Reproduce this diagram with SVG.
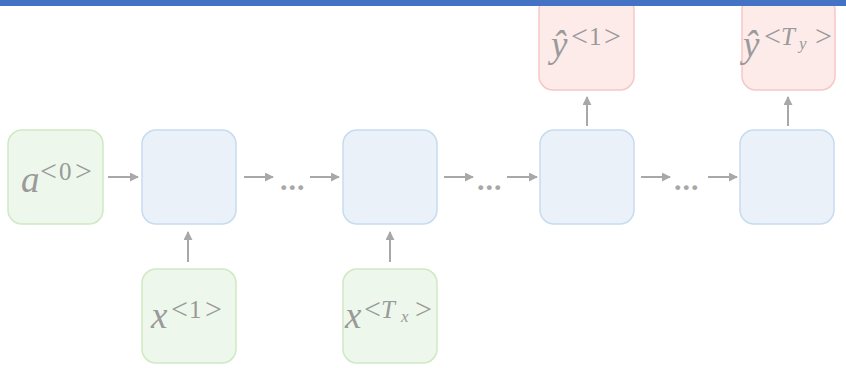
<svg xmlns="http://www.w3.org/2000/svg" width="846" height="368" viewBox="0 0 846 368">
  <defs>
    <style>
      .in   { fill: #eef7eb; stroke: #cfe9c3; stroke-width: 1.5; }
      .hid  { fill: #eaf1f9; stroke: #c6dcef; stroke-width: 1.5; }
      .out  { fill: #fdebea; stroke: #f6c7c5; stroke-width: 1.5; }
      .lbl  { font-family: "Liberation Serif", "DejaVu Serif", serif; fill: #9a9a9a; }
      .var  { font-style: italic; font-size: 37px; }
      .sup  { font-size: 25px; }
      .rel  { font-size: 30px; }
      .supi { font-size: 25px; font-style: italic; }
      .sub  { font-size: 17px; font-style: italic; }
      .dots { font-family: "Liberation Serif", "DejaVu Serif", serif; font-size: 30px; font-weight: bold; fill: #a8a8a8; letter-spacing: 1px; }
      .edge { stroke: #a8a8a8; stroke-width: 2; fill: none; marker-end: url(#head); }
    </style>
    <marker id="head" viewBox="0 0 10 10" refX="9" refY="5" markerWidth="4.5" markerHeight="4.5" orient="auto" markerUnits="strokeWidth">
      <path d="M0,0 L10,5 L0,10 Z" fill="#a8a8a8"/>
    </marker>
  </defs>

  <rect width="846" height="368" fill="#ffffff"/>

  <!-- initial activation -->
  <g id="a0">
    <rect class="in" x="8" y="130" width="95" height="94" rx="14"/>
    <text class="lbl"><tspan class="var" x="21" y="192">a</tspan><tspan class="rel" x="40" y="181">&lt;</tspan><tspan class="sup" x="59" y="180">0</tspan><tspan class="rel" x="75" y="181">&gt;</tspan></text>
  </g>

  <!-- recurrent cells -->
  <g id="h1"><rect class="hid" x="142" y="130" width="94" height="94" rx="14"/></g>
  <g id="h2"><rect class="hid" x="343" y="130" width="94" height="94" rx="14"/></g>
  <g id="h3"><rect class="hid" x="540" y="130" width="94" height="94" rx="14"/></g>
  <g id="h4"><rect class="hid" x="740" y="130" width="94" height="94" rx="14"/></g>

  <!-- inputs -->
  <g id="x1">
    <rect class="in" x="142" y="269" width="94" height="94" rx="14"/>
    <text class="lbl"><tspan class="var" x="151" y="328">x</tspan><tspan class="rel" x="171" y="319">&lt;</tspan><tspan class="sup" x="189" y="318">1</tspan><tspan class="rel" x="205" y="319">&gt;</tspan></text>
  </g>
  <g id="xTx">
    <rect class="in" x="343" y="269" width="94" height="94" rx="14"/>
    <text class="lbl"><tspan class="var" x="345" y="328">x</tspan><tspan class="rel" x="364" y="319">&lt;</tspan><tspan class="supi" x="381" y="318">T</tspan><tspan class="sub" x="401" y="322">x</tspan><tspan class="rel" x="415" y="319">&gt;</tspan></text>
  </g>

  <!-- outputs -->
  <g id="y1">
    <rect class="out" x="539" y="-4" width="95" height="94" rx="14"/>
    <text class="lbl"><tspan class="var" x="551" y="57">ŷ</tspan><tspan class="rel" x="571" y="46">&lt;</tspan><tspan class="sup" x="589" y="45">1</tspan><tspan class="rel" x="604" y="46">&gt;</tspan></text>
  </g>
  <g id="yTy">
    <rect class="out" x="742" y="-4" width="93" height="94" rx="14"/>
    <text class="lbl"><tspan class="var" x="743" y="57">ŷ</tspan><tspan class="rel" x="764" y="46">&lt;</tspan><tspan class="supi" x="781" y="45">T</tspan><tspan class="sub" x="799" y="49">y</tspan><tspan class="rel" x="815" y="46">&gt;</tspan></text>
  </g>

  <!-- connectors -->
  <g id="edges">
    <line class="edge" x1="108" y1="177" x2="138" y2="177"/>
    <line class="edge" x1="244" y1="177" x2="273" y2="177"/>
    <line class="edge" x1="310" y1="177" x2="339" y2="177"/>
    <line class="edge" x1="444" y1="177" x2="473" y2="177"/>
    <line class="edge" x1="507" y1="177" x2="537" y2="177"/>
    <line class="edge" x1="641" y1="177" x2="670" y2="177"/>
    <line class="edge" x1="708" y1="177" x2="737" y2="177"/>
    <line class="edge" x1="188" y1="262" x2="188" y2="232"/>
    <line class="edge" x1="390" y1="262" x2="390" y2="232"/>
    <line class="edge" x1="587" y1="126" x2="587" y2="97"/>
    <line class="edge" x1="788" y1="126" x2="788" y2="97"/>
    <text class="dots" x="280" y="190">...</text>
    <text class="dots" x="477" y="190">...</text>
    <text class="dots" x="674" y="190">...</text>
  </g>

  <!-- header band -->
  <rect x="0" y="0" width="846" height="6" fill="#4472c4"/>
</svg>
